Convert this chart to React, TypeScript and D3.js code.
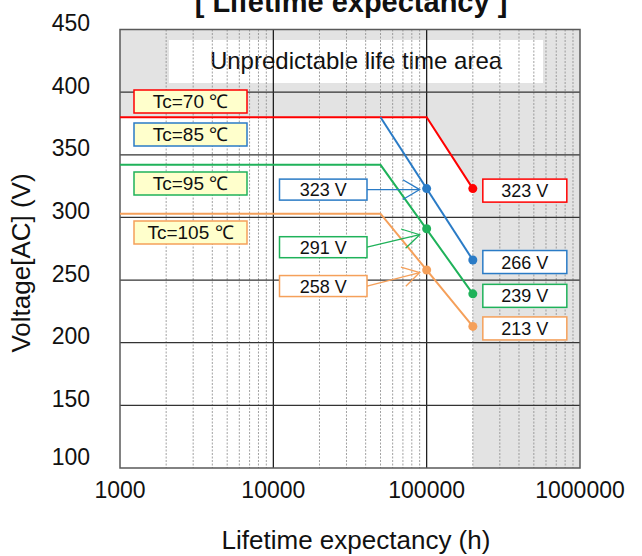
import React from "react";
import * as d3 from "d3";

const seriesNames = ["Tc=70 ℃", "Tc=85 ℃", "Tc=95 ℃", "Tc=105 ℃"];
const seriesColors = ["#ff0000", "#2a7bc6", "#1fb25a", "#f5a05a"];
const seriesHours = [
  [1000, 100000, 200000],
  [50000, 200000],
  [1000, 50000, 200000],
  [1000, 50000, 200000],
];
const seriesVolts = [
  [380, 380, 323],
  [380, 266],
  [342, 342, 239],
  [303, 303, 213],
];
const endHours = 200000;
const endVolts = [323, 266, 239, 213];
const midHours = 100000;
const midSeries = [1, 2, 3];
const midVolts = [323, 291, 258];
const yTicks = [100, 150, 200, 250, 300, 350, 400, 450];
const xTicks = [1000, 10000, 100000, 1000000];
const areaText = "Unpredictable life time area";

const W = 642;
const H = 556;
const font = "'Liberation Sans', Arial, sans-serif";

export default function App() {
  const x = d3.scaleLog().domain([1000, 1000000]).range([120, 580]);
  const y = d3.scaleLinear().domain([100, 450]).range([468, 29.5]);
  const [x0, x1] = x.range();
  const [yb, yt] = y.range();

  const minor: number[] = [];
  [1000, 10000, 100000].forEach((d) => {
    for (let k = 2; k <= 9; k++) minor.push(d * k);
  });

  const line = d3
    .line<[number, number]>()
    .x((d) => x(d[0]))
    .y((d) => y(d[1]));

  const red = seriesHours[0].map((h, i) => [h, seriesVolts[0][i]] as [number, number]);
  const safePoly: [number, number][] = [...red, [endHours, 100], [1000, 100]];

  const legendTops = [90, 123, 172, 221];
  const midOffsets = [1, 18.5, 16];
  const tipOffsets = [1, 6, 2.5];

  return (
    <svg
      width={W}
      height={H}
      style={{ position: "absolute", left: 0, top: 0, background: "#fff" }}
      fontFamily={font}
    >
      <rect x={0} y={0} width={W} height={H} fill="#fff" />
      <rect x={x0} y={yt} width={x1 - x0} height={yb - yt} fill="#e3e3e3" />
      <path d={line(safePoly)! + "Z"} fill="#fff" />

      <rect x={169} y={40} width={374} height={43} fill="#fff" />
      <text x={356} y={69} fontSize={24} textAnchor="middle" fill="#111">
        {areaText}
      </text>

      {minor.map((m) => (
        <line
          key={m}
          x1={x(m)}
          x2={x(m)}
          y1={yt}
          y2={yb}
          stroke="#8a8a8a"
          strokeWidth={0.8}
          strokeDasharray="2,1.5"
        />
      ))}
      {[10000, 100000].map((m) => (
        <line key={m} x1={x(m)} x2={x(m)} y1={yt} y2={yb} stroke="#111" strokeWidth={1.2} />
      ))}
      {yTicks.slice(1, -1).map((v) => (
        <line key={v} x1={x0} x2={x1} y1={y(v)} y2={y(v)} stroke="#333" strokeWidth={1.2} />
      ))}
      <rect
        x={x0}
        y={yt}
        width={x1 - x0}
        height={yb - yt}
        fill="none"
        stroke="#595959"
        strokeWidth={1.5}
      />

      {seriesHours.map((hs, i) => (
        <path
          key={i}
          d={line(hs.map((h, j) => [h, seriesVolts[i][j]] as [number, number]))!}
          fill="none"
          stroke={seriesColors[i]}
          strokeWidth={2}
        />
      ))}
      {midSeries.map((s, i) => (
        <circle key={s} cx={x(midHours)} cy={y(midVolts[i])} r={4.5} fill={seriesColors[s]} />
      ))}
      {endVolts.map((v, i) => (
        <circle key={i} cx={x(endHours)} cy={y(v)} r={4.5} fill={seriesColors[i]} />
      ))}

      {endVolts.map((v, i) => {
        const bx = x(endHours) + 10;
        const cy = y(v) + 2;
        return (
          <g key={i}>
            <rect x={bx} y={cy - 11.5} width={84} height={23} fill="#fff" stroke={seriesColors[i]} strokeWidth={1.5} />
            <text x={bx + 42} y={cy + 6.5} fontSize={18} textAnchor="middle" fill="#111">
              {`${v} V`}
            </text>
          </g>
        );
      })}

      {midSeries.map((s, i) => {
        const cy = y(midVolts[i]) + midOffsets[i];
        const bx = 279.5;
        const bw = 87.5;
        const tipX = x(midHours) - 7;
        const tipY = y(midVolts[i]) + tipOffsets[i];
        const sx = bx + bw;
        const ang = Math.atan2(tipY - cy, tipX - sx);
        const L = 19.5;
        const spread = 0.53;
        const a1x = tipX - L * Math.cos(ang - spread);
        const a1y = tipY - L * Math.sin(ang - spread);
        const a2x = tipX - L * Math.cos(ang + spread);
        const a2y = tipY - L * Math.sin(ang + spread);
        const c = seriesColors[s];
        return (
          <g key={s}>
            <line x1={sx} y1={cy} x2={tipX} y2={tipY} stroke={c} strokeWidth={1.3} />
            <polyline points={`${a1x},${a1y} ${tipX},${tipY} ${a2x},${a2y}`} fill="none" stroke={c} strokeWidth={1.3} />
            <rect x={bx} y={cy - 10.5} width={bw} height={21} fill="#fff" stroke={c} strokeWidth={1.5} />
            <text x={bx + bw / 2} y={cy + 6.5} fontSize={18} textAnchor="middle" fill="#111">
              {`${midVolts[i]} V`}
            </text>
          </g>
        );
      })}

      {seriesNames.map((n, i) => (
        <g key={n}>
          <rect x={134} y={legendTops[i]} width={113} height={23} fill="#ffffcc" stroke={seriesColors[i]} strokeWidth={1.5} />
          <text x={190.5} y={legendTops[i] + 18} fontSize={19} textAnchor="middle" fill="#111">
            {n}
          </text>
        </g>
      ))}

      {yTicks.map((v) => (
        <text key={v} x={90} y={y(v) + (v === 100 ? -3 : 1.5)} fontSize={23} textAnchor="end" fill="#111">
          {v}
        </text>
      ))}
      {xTicks.map((v) => (
        <text key={v} x={x(v)} y={498} fontSize={23} textAnchor="middle" fill="#111">
          {v}
        </text>
      ))}
      <text x={356} y={549} fontSize={26} textAnchor="middle" fill="#111">
        Lifetime expectancy (h)
      </text>
      <text
        transform={`translate(30,263) rotate(-90)`}
        fontSize={26}
        textAnchor="middle"
        fill="#111"
      >
        Voltage[AC] (V)
      </text>
      <text x={351} y={12} fontSize={29} fontWeight="bold" textAnchor="middle" fill="#111">
        [ Lifetime expectancy ]
      </text>
    </svg>
  );
}
